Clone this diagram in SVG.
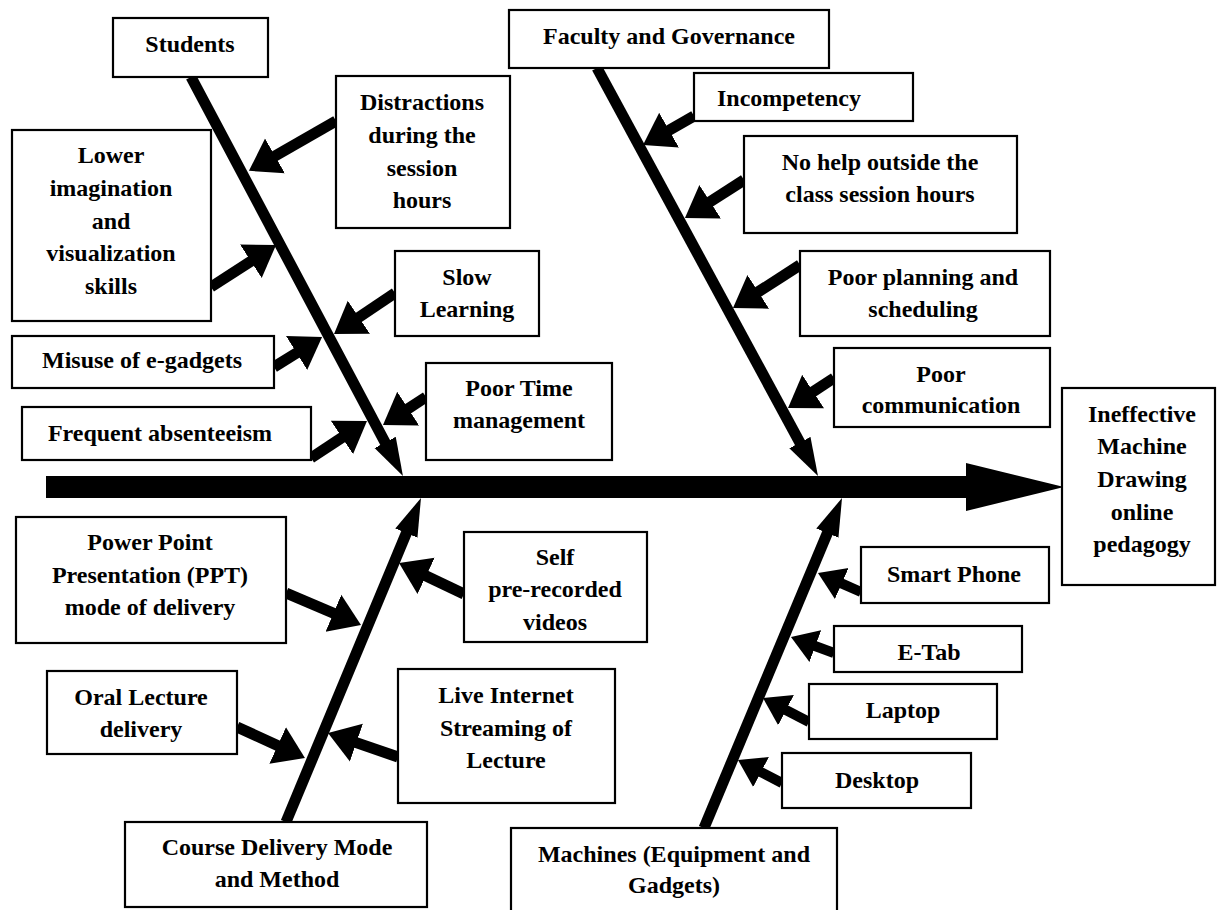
<svg xmlns="http://www.w3.org/2000/svg" width="1217" height="910" viewBox="0 0 1217 910">
<style>
.bx{fill:#fff;stroke:#000;stroke-width:2.2}
.t{font-family:"Liberation Serif","Times New Roman",serif;font-weight:bold;font-size:24px;fill:#000;text-anchor:middle}
.sp{stroke:#000;stroke-width:11;fill:none;marker-end:url(#hs)}
.ar{stroke:#000;stroke-width:11;fill:none;marker-end:url(#hb)}
.am{stroke:#000;stroke-width:10;fill:none;marker-end:url(#hm)}
</style>
<defs>
<marker id="hs" markerUnits="userSpaceOnUse" viewBox="0 -13 40 26" markerWidth="40" markerHeight="26" refX="4" refY="0" orient="auto"><path d="M0,-12 L38,0 L0,12 z" fill="#000"/></marker>
<marker id="hb" markerUnits="userSpaceOnUse" viewBox="0 -21 32 42" markerWidth="32" markerHeight="42" refX="4" refY="0" orient="auto"><path d="M0,-20 L30,0 L0,20 z" fill="#000"/></marker>
<marker id="hm" markerUnits="userSpaceOnUse" viewBox="0 -18 28 36" markerWidth="28" markerHeight="36" refX="4" refY="0" orient="auto"><path d="M0,-17 L26,0 L0,17 z" fill="#000"/></marker>
</defs>
<rect width="1217" height="910" fill="#fff"/>
<g id="connectors">
<rect x="46" y="476" width="922" height="22" fill="#000"/>
<polygon points="966,463 1064,487 966,511" fill="#000"/>
<line class="sp" x1="191" y1="77" x2="387" y2="446"/>
<line class="sp" x1="597" y1="68" x2="801.8" y2="446.1"/>
<line class="sp" x1="286" y1="822" x2="407.9" y2="529.4"/>
<line class="sp" x1="704" y1="828" x2="828.9" y2="529.4"/>
<line class="ar" x1="336" y1="121" x2="271.5" y2="157.9"/>
<line class="ar" x1="211" y1="287" x2="254.2" y2="259.1"/>
<line class="ar" x1="395" y1="293" x2="355.6" y2="319.5"/>
<line class="ar" x1="274" y1="367" x2="300" y2="350.8"/>
<line class="ar" x1="426" y1="397" x2="404.8" y2="410.8"/>
<line class="ar" x1="311" y1="458" x2="345.3" y2="435.3"/>
<line class="ar" x1="694" y1="116" x2="665.6" y2="132.2"/>
<line class="ar" x1="744" y1="180" x2="706.8" y2="203.9"/>
<line class="ar" x1="800" y1="265" x2="754.9" y2="294"/>
<line class="ar" x1="834" y1="378" x2="809.8" y2="393.8"/>
<line class="ar" x1="286" y1="593" x2="337.1" y2="614.8"/>
<line class="ar" x1="464" y1="594" x2="422.5" y2="574.2"/>
<line class="ar" x1="237" y1="727" x2="281.3" y2="747.2"/>
<line class="ar" x1="398" y1="757" x2="352.6" y2="741.4"/>
<line class="am" x1="861" y1="592" x2="838.1" y2="581.9"/>
<line class="am" x1="834" y1="653" x2="811.6" y2="644.7"/>
<line class="am" x1="809" y1="722" x2="782.5" y2="708.2"/>
<line class="am" x1="782" y1="783" x2="757.5" y2="770.2"/>
</g>
<g id="students"><rect class="bx" x="113" y="18" width="155" height="59"/><text class="t" x="190" y="52">Students</text></g>
<g id="faculty"><rect class="bx" x="509" y="10" width="320" height="58"/><text class="t" x="669" y="44">Faculty and Governance</text></g>
<g id="lower-imagination"><rect class="bx" x="12" y="130" width="199" height="191"/><text class="t" x="111" y="163">Lower</text><text class="t" x="111" y="196">imagination</text><text class="t" x="111" y="229">and</text><text class="t" x="111" y="261">visualization</text><text class="t" x="111" y="294">skills</text></g>
<g id="distractions"><rect class="bx" x="336" y="76" width="174" height="152"/><text class="t" x="422" y="110">Distractions</text><text class="t" x="422" y="143">during the</text><text class="t" x="422" y="176">session</text><text class="t" x="422" y="208">hours</text></g>
<g id="slow-learning"><rect class="bx" x="395" y="251" width="144" height="85"/><text class="t" x="467" y="285">Slow</text><text class="t" x="467" y="317">Learning</text></g>
<g id="misuse"><rect class="bx" x="12" y="336" width="262" height="52"/><text class="t" x="142" y="368">Misuse of e-gadgets</text></g>
<g id="poor-time"><rect class="bx" x="426" y="363" width="186" height="97"/><text class="t" x="519" y="396">Poor Time</text><text class="t" x="519" y="428">management</text></g>
<g id="frequent"><rect class="bx" x="22" y="407" width="289" height="53"/><text class="t" x="160" y="441">Frequent absenteeism</text></g>
<g id="incompetency"><rect class="bx" x="694" y="73" width="219" height="48"/><text class="t" x="789" y="106">Incompetency</text></g>
<g id="no-help"><rect class="bx" x="744" y="136" width="273" height="97"/><text class="t" x="880" y="170">No help outside the</text><text class="t" x="880" y="202">class session hours</text></g>
<g id="poor-planning"><rect class="bx" x="800" y="251" width="250" height="85"/><text class="t" x="923" y="285">Poor planning and</text><text class="t" x="923" y="317">scheduling</text></g>
<g id="poor-communication"><rect class="bx" x="834" y="348" width="216" height="79"/><text class="t" x="941" y="382">Poor</text><text class="t" x="941" y="413">communication</text></g>
<g id="effect"><rect class="bx" x="1062" y="388" width="153" height="197"/><text class="t" x="1142" y="422">Ineffective</text><text class="t" x="1142" y="454">Machine</text><text class="t" x="1142" y="487">Drawing</text><text class="t" x="1142" y="520">online</text><text class="t" x="1142" y="552">pedagogy</text></g>
<g id="ppt"><rect class="bx" x="16" y="517" width="270" height="126"/><text class="t" x="150" y="550">Power Point</text><text class="t" x="150" y="583">Presentation (PPT)</text><text class="t" x="150" y="615">mode of delivery</text></g>
<g id="self-videos"><rect class="bx" x="464" y="532" width="183" height="110"/><text class="t" x="555" y="565">Self</text><text class="t" x="555" y="597">pre-recorded</text><text class="t" x="555" y="630">videos</text></g>
<g id="oral"><rect class="bx" x="47" y="671" width="190" height="83"/><text class="t" x="141" y="705">Oral Lecture</text><text class="t" x="141" y="737">delivery</text></g>
<g id="live"><rect class="bx" x="398" y="669" width="217" height="134"/><text class="t" x="506" y="703">Live Internet</text><text class="t" x="506" y="736">Streaming of</text><text class="t" x="506" y="768">Lecture</text></g>
<g id="course-delivery"><rect class="bx" x="125" y="822" width="302" height="85"/><text class="t" x="277" y="855">Course Delivery Mode</text><text class="t" x="277" y="887">and Method</text></g>
<g id="machines"><rect class="bx" x="511" y="828" width="326" height="90"/><text class="t" x="674" y="862">Machines (Equipment and</text><text class="t" x="674" y="893">Gadgets)</text></g>
<g id="smart-phone"><rect class="bx" x="861" y="547" width="188" height="56"/><text class="t" x="954" y="582">Smart Phone</text></g>
<g id="e-tab"><rect class="bx" x="834" y="626" width="188" height="46"/><text class="t" x="929" y="660">E-Tab</text></g>
<g id="laptop"><rect class="bx" x="809" y="684" width="188" height="55"/><text class="t" x="903" y="718">Laptop</text></g>
<g id="desktop"><rect class="bx" x="782" y="753" width="189" height="55"/><text class="t" x="877" y="788">Desktop</text></g>
</svg>
